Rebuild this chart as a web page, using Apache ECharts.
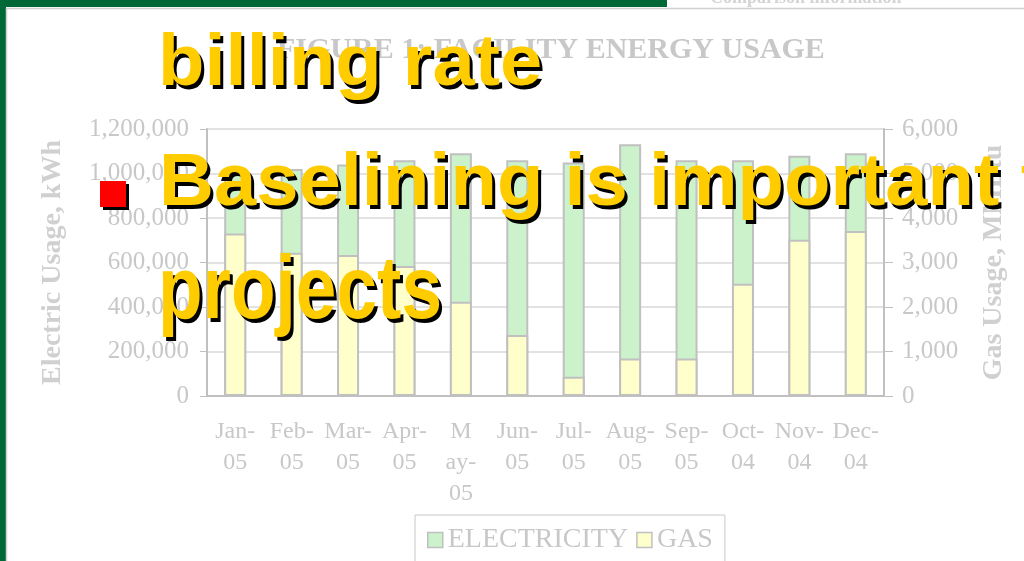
<!DOCTYPE html>
<html>
<head>
<meta charset="utf-8">
<script src="https://cdn.jsdelivr.net/npm/echarts@6/dist/echarts.min.js"></script>
<style>
  html, body { margin: 0; padding: 0; background: #fff; }
  #chart { width: 1024px; height: 561px; }
</style>
</head>
<body>
<div id="chart"></div>
<script>
// categories as they wrap under the axis
const months = ["Jan-\n05", "Feb-\n05", "Mar-\n05", "Apr-\n05", "M\nay-\n05", "Jun-\n05",
  "Jul-\n05", "Aug-\n05", "Sep-\n05", "Oct-\n04", "Nov-\n04", "Dec-\n04"];
// kWh, left axis
const electricity = [1023000, 1020000, 1041000, 1060000, 1091000, 1060000,
  1050000, 1131000, 1060000, 1060000, 1080000, 1091000];
// MMBtu, right axis
const gas = [3650, 3220, 3170, 2920, 2120, 1370, 430, 840, 840, 2520, 3510, 3710];

// slide text lying over the chart
const slideLines = ["billing rate", "Baselining is important for", "projects"];

const SERIF = '"Liberation Serif", "Times New Roman", serif';
const SANS = '"Liberation Sans", Arial, sans-serif';
const faded = "#c8c8c8";

const chartDom = document.getElementById("chart");
const myChart = echarts.init(chartDom);

// yellow text with a hard black drop shadow
function slideText(str, x, y, size, sy) {
  const font = `bold ${size}px ${SANS}`;
  return [
    { type: "text", x: x + 3, y: y + 4, scaleY: sy, z: 100,
      style: { text: str, font, fill: "#000", verticalAlign: "middle" } },
    { type: "text", x, y, scaleY: sy, z: 101,
      style: { text: str, font, fill: "#FFCC00", verticalAlign: "middle" } },
  ];
}

const option = {
  animation: false,
  title: {
    text: "FIGURE 1: FACILITY ENERGY USAGE",
    left: 272,
    top: 30,
    textStyle: { fontFamily: SERIF, fontWeight: "bold", fontSize: 30, color: faded },
  },
  legend: {
    left: 415,
    top: 515,
    padding: [11, 12, 11, 12],
    itemGap: 8,
    itemWidth: 15,
    itemHeight: 15,
    borderColor: faded,
    borderWidth: 1,
    itemStyle: { borderWidth: 1.5 },
    textStyle: { fontFamily: SERIF, fontSize: 28, color: faded },
    data: [{ name: "ELECTRICITY", icon: "rect" }, { name: "GAS", icon: "rect" }],
  },
  grid: { left: 207, right: 140, top: 129, bottom: 165, containLabel: false },
  xAxis: {
    type: "category",
    data: months,
    axisLine: { lineStyle: { color: "#c0c0c0", width: 2 } },
    axisTick: { length: 7, interval: 0, lineStyle: { color: "#c0c0c0" } },
    axisLabel: {
      interval: 0, margin: 20, fontFamily: SERIF, fontSize: 24,
      lineHeight: 31, color: faded,
    },
  },
  yAxis: [
    {
      type: "value",
      position: "left",
      min: 0,
      max: 1200000,
      interval: 200000,
      name: "Electric Usage, kWh",
      nameLocation: "middle",
      nameRotate: 90,
      nameGap: 140,
      nameTextStyle: { fontFamily: SERIF, fontWeight: "bold", fontSize: 28, color: "#d0d0d0" },
      axisLine: { show: true, lineStyle: { color: "#c0c0c0", width: 2 } },
      axisTick: { show: true, length: 7, lineStyle: { color: "#c0c0c0" } },
      axisLabel: {
        margin: 18, fontFamily: SERIF, fontSize: 25, color: faded,
        formatter: (v) => v.toLocaleString("en-US"),
      },
      splitLine: { lineStyle: { color: "#d9d9d9", width: 1.5 } },
    },
    {
      type: "value",
      position: "right",
      min: 0,
      max: 6000,
      interval: 1000,
      name: "Gas Usage, MMBtu",
      nameLocation: "middle",
      nameRotate: 90,
      nameGap: 96,
      nameTextStyle: { fontFamily: SERIF, fontWeight: "bold", fontSize: 28, color: "#d0d0d0" },
      axisLine: { show: true, lineStyle: { color: "#c0c0c0", width: 2 } },
      axisTick: { show: true, length: 9, lineStyle: { color: "#c0c0c0" } },
      axisLabel: {
        margin: 18, fontFamily: SERIF, fontSize: 25, color: faded,
        formatter: (v) => v.toLocaleString("en-US"),
      },
      splitLine: { show: false },
    },
  ],
  series: [
    {
      name: "ELECTRICITY",
      type: "bar",
      yAxisIndex: 0,
      data: electricity,
      barWidth: 22,
      barGap: "-100%",
      itemStyle: { color: "#ccf2cc", borderColor: "#c0c0c0", borderWidth: 2 },
    },
    {
      name: "GAS",
      type: "bar",
      yAxisIndex: 1,
      data: gas,
      barWidth: 22,
      barGap: "-100%",
      itemStyle: { color: "#ffffcc", borderColor: "#c0c0c0", borderWidth: 2 },
    },
  ],
  graphic: [
    // slide frame
    { type: "rect", z: 90, shape: { x: 0, y: 0, width: 667, height: 7 }, style: { fill: "#006837" } },
    { type: "rect", z: 90, shape: { x: 0, y: 0, width: 6, height: 561 }, style: { fill: "#006837" } },
    { type: "line", z: 90, shape: { x1: 6, y1: 8.5, x2: 1024, y2: 8.5 }, style: { stroke: "#d0d0d0", lineWidth: 1.5 } },
    { type: "line", z: 90, shape: { x1: 6.5, y1: 8, x2: 6.5, y2: 561 }, style: { stroke: "#d0d0d0", lineWidth: 1.5 } },
    { type: "text", x: 710, y: -2, z: 89,
      style: { text: "Comparison information", font: `bold 18px ${SERIF}`, fill: "#d4d4d4", verticalAlign: "middle" } },
    // red square bullet
    { type: "rect", z: 100, shape: { x: 103, y: 184, width: 26, height: 26 }, style: { fill: "#000" } },
    { type: "rect", z: 101, shape: { x: 100, y: 181, width: 26, height: 26 }, style: { fill: "#ff0000" } },
    ...slideText(slideLines[0], 158, 65, 76, 0.95),
    ...slideText(slideLines[1], 159, 185, 76, 0.97),
    ...slideText(slideLines[2], 158, 293, 73, 1.22),
  ],
};

myChart.setOption(option);
</script>
</body>
</html>
